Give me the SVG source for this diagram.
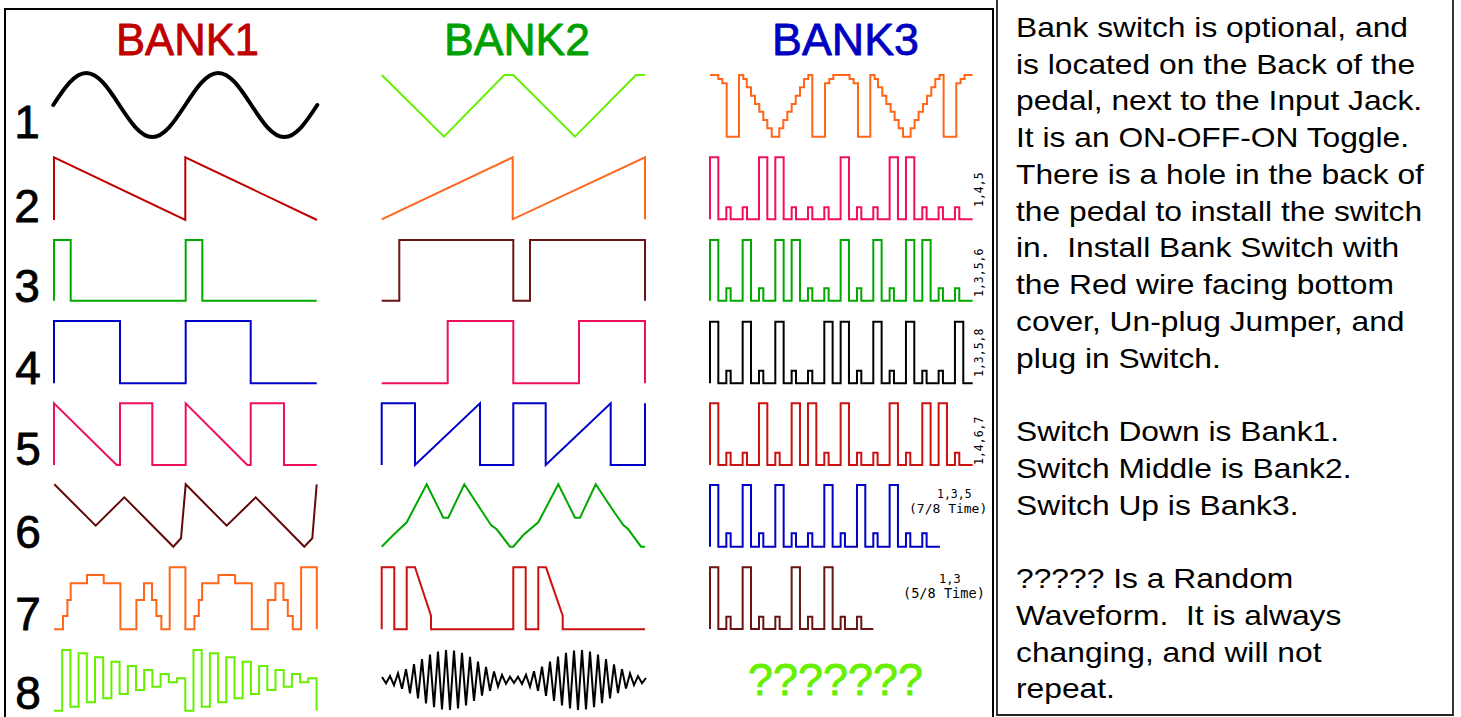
<svg xmlns="http://www.w3.org/2000/svg" width="1461" height="717" viewBox="0 0 1461 717">
<style>
.w{fill:none;stroke-width:2;stroke-linejoin:miter}
.t{font-family:"Liberation Sans",Arial,sans-serif;stroke-linejoin:round}
.num{font-family:"Liberation Sans",Arial,sans-serif;font-size:46px;fill:#000;stroke:#000;stroke-width:0.8;stroke-linejoin:round;text-anchor:middle}
.lbl{font-family:"DejaVu Sans Mono","Liberation Mono",monospace;fill:#000}
.body{font-family:"Liberation Sans",Arial,sans-serif;font-size:28px;fill:#000;white-space:pre}
.dred{stroke:#c00000}.grn{stroke:#00a800}.blu{stroke:#0000c8}.crm{stroke:#f0105a}.brn{stroke:#620808}.org{stroke:#ff661a}.lgr{stroke:#66f000}.blk{stroke:#000}.red{stroke:#cc1111}.brn2{stroke:#6a1414}
</style>
<rect width="1461" height="717" fill="#fff"/>
<g id="frames" fill="none" stroke="#000" stroke-width="2">
<rect x="5" y="9" width="988" height="720"/>
<path d="M997,-2 V715 H1453 V-2" stroke="#222" stroke-width="1.8"/>
</g>
<g id="titles">
<text class="t" x="116" y="55" font-size="45" textLength="143" lengthAdjust="spacingAndGlyphs" fill="#c00000" stroke="#c00000" stroke-width="0.8">BANK1</text>
<text class="t" x="444" y="55" font-size="45" textLength="146" lengthAdjust="spacingAndGlyphs" fill="#00a000" stroke="#00a000" stroke-width="0.8">BANK2</text>
<text class="t" x="772" y="55" font-size="45" textLength="147" lengthAdjust="spacingAndGlyphs" fill="#0000c0" stroke="#0000c0" stroke-width="0.8">BANK3</text>
</g>
<g id="row-numbers">
<text class="num" x="27" y="138">1</text>
<text class="num" x="27" y="222">2</text>
<text class="num" x="27" y="302">3</text>
<text class="num" x="28" y="384">4</text>
<text class="num" x="28" y="465">5</text>
<text class="num" x="28" y="548">6</text>
<text class="num" x="28" y="630">7</text>
<text class="num" x="28" y="709">8</text>
</g>
<g id="bank1">
<path id="b1r1" class="w blk" style="stroke-width:4;stroke-linecap:round" d="M53.3,105 C64.3,88.2 74.4,73 86.3,73 C98.2,73 108.3,88.2 119.3,105 C130.3,121.8 140.4,137 152.3,137 C164.2,137 174.3,121.8 185.3,105 C196.3,88.2 206.4,73 218.3,73 C230.2,73 240.3,88.2 251.3,105 C262.3,121.8 272.4,137 284.3,137 C296.2,137 306.3,121.8 317.3,105"/>
<path id="b1r2" class="w dred" d="M54,220 V157.3 L185.3,220 V157.3 L317,220"/>
<path id="b1r3" class="w grn" d="M54,300.7 V240 H70.7 V300.7 H185.7 V240 H202.3 V300.7 H316.7"/>
<path id="b1r4" class="w blu" d="M54,383.3 V321 H120 V383.3 H185.7 V321 H250.7 V383.3 H316.7"/>
<path id="b1r5" class="w crm" d="M54,465 V403.3 L116.7,465 H120 V403.3 H152.3 V465 H185.7 V403.3 L247.3,465 H250.7 V403.3 H284 V465 H316.7"/>
<path id="b1r6" class="w brn" d="M54.3,484.3 L95.7,525.7 L124.3,497.3 L173.3,546.7 L181,538.3 L185.7,484.3 L226.7,525.7 L255.7,497.3 L304.3,546.7 L312.3,538.3 L316.7,484.3"/>
<path id="b1r7" class="w org" d="M54,629.3 H63 V616 H67.4 V600 H70.7 V583.3 H87 V575 H103.7 V583.3 H120.4 V629.3 H136.4 V600 H144 V583.3 H152 V600 H156.4 V616 H161.4 V629.3 H169.7 V567.3 H185.4 V629.3 H194.4 V616 H198.8 V600 H202.1 V583.3 H218.4 V575 H235.1 V583.3 H251.8 V629.3 H267.8 V600 H275.4 V583.3 H283.4 V600 H287.8 V616 H292.8 V629.3 H301.1 V567.3 H316.8 V629.3"/>
<path id="b1r8" class="w lgr" d="M54,710.7 h8.2 V650 h8.2 V706.7 h8.2 V653.3 h8.2 V702.3 h8.2 V657.3 h8.2 V698.3 h8.2 V661.7 h8.2 V694 h8.2 V666 h8.2 V690 h8.2 V670 h8.2 V686.7 h8.2 V674 h8.2 V682.3 h8.2 V678.3 h8.3 V710.7 h8.2 V650 h8.2 V706.7 h8.2 V653.3 h8.2 V702.3 h8.2 V657.3 h8.2 V698.3 h8.2 V661.7 h8.2 V694 h8.2 V666 h8.2 V690 h8.2 V670 h8.2 V686.7 h8.2 V674 h8.2 V682.3 h8.2 V678.3 h8.3 V710.7"/>
</g>
<g id="bank2">
<path id="b2r1" class="w lgr" d="M381.7,75 L444,136.7 L504.3,75 H513.3 L575,136.7 L636,75 H645"/>
<path id="b2r2" class="w org" d="M381.7,219.3 L512.7,157.3 V219.3 L645,157.3 V219.3"/>
<path id="b2r3" class="w brn2" d="M381.7,300.7 H399.3 V240 H513.3 V300.7 H530 V240 H645 V300.7"/>
<path id="b2r4" class="w crm" d="M381.7,383.3 H447.7 V321 H513.3 V383.3 H579 V321 H645 V383.3"/>
<path id="b2r5" class="w blu" d="M381.7,465 V403.3 H415 V465 L480,403.3 V465 H513.3 V403.3 H545.7 V465 L610.7,403.3 V465 H645 V403.3"/>
<polyline id="b2r6" class="w grn" points="381.7,546.7 393.3,535 406.7,522.3 426.7,484.3 443.3,517.7 448.3,517.7 464.3,484.3 483.3,513.3 491,525 496.7,529.3 510,546.7 513.3,546.7 523.3,535 538.3,522.3 558.3,484.3 575,517.7 580,517.7 595.7,484.3 615,513.3 623.3,525 628.3,529.3 641,546.7 645,546.7"/>
<path id="b2r7" class="w red" d="M381.7,629.3 V567.3 H394.3 V629.3 H406.7 V567.3 H415 L431,615.7 V629.3 H513.3 V567.3 H525.7 V629.3 H538.3 V567.3 H546 L562.7,615.7 V629.3 H645"/>
<polyline id="b2r8" class="w blk" points="382,677 386,683.3 390,676 394,685.2 398,673.2 402,688.7 406,669.1 410,693.4 414,664.1 418,698.5 422,659 426,703.3 430,654.6 434,707.2 438,651.5 442,709.5 446,650 450,709.9 454,650.5 458,708.5 462,652.9 466,705.3 470,656.8 474,700.8 478,661.7 482,695.7 486,666.8 490,690.8 494,671.4 498,686.6 502,674.9 506,683.9 510,676.8 514,683 518,676.7 522,684 526,674.8 530,686.8 534,671.3 538,690.9 542,666.6 546,695.9 550,661.5 554,701 558,656.7 562,705.4 566,652.8 570,708.5 574,650.5 578,710 582,650.1 586,709.5 590,651.5 594,707.1 598,654.7 602,703.2 606,659.2 610,698.3 614,664.3 618,693.2 622,669.2 626,688.6 630,673.4 634,685.1 638,676.1 642,683.2 646,678"/>
</g>
<g id="bank3">
<path id="b3r1" class="w org" d="M710,75 H718.3 V79 H722.3 V83.3 H726.7 V136.7 H739 V75 H743.3 V79 H746.7 V87.3 H751 V95.7 H755 V104 H759.3 V111.7 H763.3 V120 H767.3 V128.3 H771.7 V136.7 H779.3 V128.3 H783.3 V120 H787.3 V111.7 H791.7 V104 H795.7 V95.7 H800 V87.3 H804 V79 H808.3 V75 H812.3 V136.7 H825 V83.3 H829.3 V79 H833.3 V75 H849.6 V79 H853.6 V83.3 H858 V136.7 H870.3 V75 H874.6 V79 H878 V87.3 H882.3 V95.7 H886.3 V104 H890.6 V111.7 H894.6 V120 H898.6 V128.3 H903 V136.7 H910.6 V128.3 H914.6 V120 H918.6 V111.7 H923 V104 H927 V95.7 H931.3 V87.3 H935.3 V79 H939.6 V75 H943.6 V136.7 H956.3 V83.3 H960.6 V79 H964.6 V75 H972.6"/>
<path id="b3r2" class="w crm" d="M710,219.3V157.3h8.33V219.3h8V207.3h4.33V219.3h12V207.3h4.33V219.3h12V157.3h8.33V219.3h8V157.3h8.33V219.3h8V207.3h4.33V219.3h12V207.3h4.33V219.3h12V207.3h4.33V219.3h12V157.3h8.33V219.3h8V207.3h4.33V219.3h12V207.3h4.33V219.3h12V157.3h8.33V219.3h8V157.3h8.33V219.3h8V207.3h4.33V219.3h12V207.3h4.33V219.3h12V207.3h4.33V219.3h13.4"/>
<path id="b3r3" class="w grn" d="M710,300.7V240h8.33V300.7h8V288.3h4.33V300.7h12V240h8.33V300.7h8V288.3h4.33V300.7h12V240h8.33V300.7h8V240h8.33V300.7h8V288.3h4.33V300.7h12V288.3h4.33V300.7h12V240h8.33V300.7h8V288.3h4.33V300.7h12V240h8.33V300.7h8V288.3h4.33V300.7h12V240h8.33V300.7h8V240h8.33V300.7h8V288.3h4.33V300.7h12V288.3h4.33V300.7h13.4"/>
<path id="b3r4" class="w blk" d="M710,383.3V321.7h8.33V383.3h8V370.7h4.33V383.3h12V321.7h8.33V383.3h8V370.7h4.33V383.3h12V321.7h8.33V383.3h8V370.7h4.33V383.3h12V370.7h4.33V383.3h12V321.7h8.33V383.3h8V321.7h8.33V383.3h8V370.7h4.33V383.3h12V321.7h8.33V383.3h8V370.7h4.33V383.3h12V321.7h8.33V383.3h8V370.7h4.33V383.3h12V370.7h4.33V383.3h12V321.7h8.33V383.3h9.4"/>
<path id="b3r5" class="w red" d="M710,465V403.3h8.33V465h8V452.7h4.33V465h12V452.7h4.33V465h12V403.3h8.33V465h8V452.7h4.33V465h12V403.3h8.33V465h8V403.3h8.33V465h8V452.7h4.33V465h12V403.3h8.33V465h8V452.7h4.33V465h12V452.7h4.33V465h12V403.3h8.33V465h8V452.7h4.33V465h12V403.3h8.33V465h8V403.3h8.33V465h8V452.7h4.33V465h13.4"/>
<path id="b3r6" class="w blu" d="M710,546.7V485h8.33V546.7h8V533.3h4.33V546.7h12V485h8.33V546.7h8V533.3h4.33V546.7h12V485h8.33V546.7h8V533.3h4.33V546.7h12V533.3h4.33V546.7h12V485h8.33V546.7h8V533.3h4.33V546.7h12V485h8.33V546.7h8V533.3h4.33V546.7h12V485h8.33V546.7h8V533.3h4.33V546.7h12V533.3h4.33V546.7h13.3"/>
<path id="b3r7" class="w brn2" d="M710,629V567.3h8.33V629h8V616.7h4.33V629h12V567.3h8.33V629h8V616.7h4.33V629h12V616.7h4.33V629h12V567.3h8.33V629h8V616.7h4.33V629h12V567.3h8.33V629h8V616.7h4.33V629h12V616.7h4.33V629h12"/>
<text id="b3r8" class="t" x="748" y="695" font-size="45" textLength="175" lengthAdjust="spacingAndGlyphs" fill="#66f000" stroke="#66f000" stroke-width="0.8">???????</text>
</g>
<g id="bank3-labels" class="lbl">
<text font-size="11.5" transform="translate(983,207) rotate(-90)">1,4,5</text>
<text font-size="11.5" transform="translate(983,297) rotate(-90)">1,3,5,6</text>
<text font-size="11.5" transform="translate(983,377) rotate(-90)">1,3,5,8</text>
<text font-size="11.5" transform="translate(983,465) rotate(-90)">1,4,6,7</text>
<text font-size="11.5" x="937" y="498">1,3,5</text>
<text font-size="13" x="909" y="513" style="white-space:pre">(7/8 Time)</text>
<text font-size="12" x="939" y="583">1,3</text>
<text font-size="13.6" x="903" y="598" style="white-space:pre">(5/8 Time)</text>
</g>
<g id="notes" transform="translate(1016,0) scale(1.135,1)">
<text class="body">
<tspan x="0" y="36.8">Bank switch is optional, and</tspan>
<tspan x="0" y="73.55">is located on the Back of the</tspan>
<tspan x="0" y="110.3">pedal, next to the Input Jack.</tspan>
<tspan x="0" y="147.05">It is an ON-OFF-ON Toggle.</tspan>
<tspan x="0" y="183.8">There is a hole in the back of</tspan>
<tspan x="0" y="220.55">the pedal to install the switch</tspan>
<tspan x="0" y="257.3">in.  Install Bank Switch with</tspan>
<tspan x="0" y="294.05">the Red wire facing bottom</tspan>
<tspan x="0" y="330.8">cover, Un-plug Jumper, and</tspan>
<tspan x="0" y="367.55">plug in Switch.</tspan>
<tspan x="0" y="441.05">Switch Down is Bank1.</tspan>
<tspan x="0" y="477.8">Switch Middle is Bank2.</tspan>
<tspan x="0" y="514.55">Switch Up is Bank3.</tspan>
<tspan x="0" y="588.05">????? Is a Random</tspan>
<tspan x="0" y="624.8">Waveform.  It is always</tspan>
<tspan x="0" y="661.55">changing, and will not</tspan>
<tspan x="0" y="698.3">repeat.</tspan>
</text>
</g>
</svg>
